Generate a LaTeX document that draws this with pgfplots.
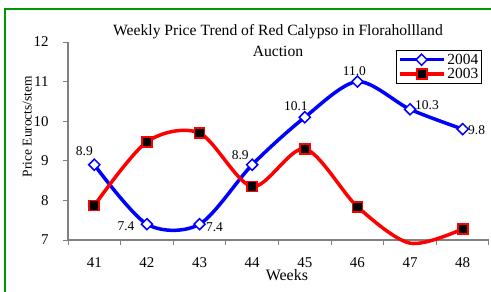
\documentclass[border=0pt]{standalone}
\usepackage{fontspec}
\setmainfont{Liberation Serif}
\usepackage{pgfplots}
\pgfplotsset{compat=1.18}
\usepackage{pgfplotstable}
\pgfkeys{/pgf/number format/assume math mode=true}
\definecolor{framegreen}{RGB}{0,150,0}
\definecolor{axisgray}{RGB}{128,128,128}

\pgfplotstableread{
x y dx dy
0.5 8.9 -10 14
1.5 7.4 -21 -2
2.5 7.4 15 -3
3.5 8.9 -12 10
4.5 10.1 -9 11
5.5 11.0 -3 11
6.5 10.3 17 4
7.5 9.8 14 -1
}\dataA

\pgfplotstableread{
x y
0.5 7.87
1.5 9.48
2.5 9.70
3.5 8.35
4.5 9.30
5.5 7.84
6.5 6.92
7.5 7.28
}\dataB

\begin{document}
\begin{tikzpicture}
\begin{axis}[
  at={(68bp,52bp)}, anchor=south west,
  scale only axis, width=421bp, height=198bp,
  xmin=0, xmax=8, ymin=7, ymax=12,
  axis x line*=bottom, axis y line*=left,
  axis line style={axisgray, line width=1.2bp, -},
  xtick={0,...,8},
  xticklabels={41,42,43,44,45,46,47,48},
  x tick label as interval,
  ytick={7,...,12},
  tick align=outside,
  major tick length=5bp,
  tick style={axisgray, line width=1bp},
  clip=false,
  tick label style={font=\fontsize{15}{17}\selectfont},
  xticklabel style={anchor=base, yshift=-22bp},
  yticklabel style={anchor=east, xshift=-11bp},
  ylabel={Price Eurocts/stem},
  ylabel style={at={(axis description cs:-0.097,0.573)}, anchor=center, font=\fontsize{13.5}{15}\selectfont},
  xlabel={Weeks},
  xlabel style={at={(axis description cs:0.52,-0.178)}, anchor=center, font=\fontsize{16}{18}\selectfont},
  legend style={at={(axis description cs:0.779,0.96)}, anchor=north west,
    draw=black, line width=0.8bp, font=\fontsize{15.5}{15}\selectfont,
    inner sep=1.5bp, row sep=-1.5bp, legend cell align=left},
  legend image code/.code={\draw[#1, mark=none] (0bp,0bp) -- (44bp,0bp);
    \draw[#1, mark indices={1}] plot coordinates {(22bp,0bp)};},
]
\addplot[blue, line width=3.5bp, smooth, tension=0.5,
  mark=square*, mark size=3.9bp,
  mark options={rotate=45, fill=white, draw=blue, line width=1.5bp},
  visualization depends on={\thisrow{dx} \as \dx},
  visualization depends on={\thisrow{dy} \as \dy},
  nodes near coords={\pgfmathprintnumber[fixed,fixed zerofill,precision=1]{\pgfplotspointmeta}},
  every node near coord/.append style={xshift=\dx, yshift=\dy, text=black, font=\fontsize{13.5}{15}\selectfont, anchor=center, inner sep=0pt},
  point meta=explicit]
  table[x=x, y=y, meta=y] {\dataA};
\addlegendentry{2004}
\addplot[red, line width=3.5bp, smooth, tension=0.5,
  mark=square*, mark size=5bp, mark indices={1,2,3,4,5,6,8},
  mark options={fill=black, draw=red, line width=1.8bp}]
  table[x=x, y=y] {\dataB};
\addlegendentry{2003}
\end{axis}
\node[font=\fontsize{15.7}{20.7}\selectfont, align=center, anchor=north, inner sep=0pt]
  at (278bp,267.5bp) {Weekly Price Trend of Red Calypso in Florahollland\\Auction};
\draw[framegreen, line width=1.5bp] (5bp,0bp) -- (5bp,283bp) -- (491bp,283bp);
\pgfresetboundingbox
\path (0bp,0bp) rectangle (491bp,292bp);
\end{tikzpicture}
\end{document}
